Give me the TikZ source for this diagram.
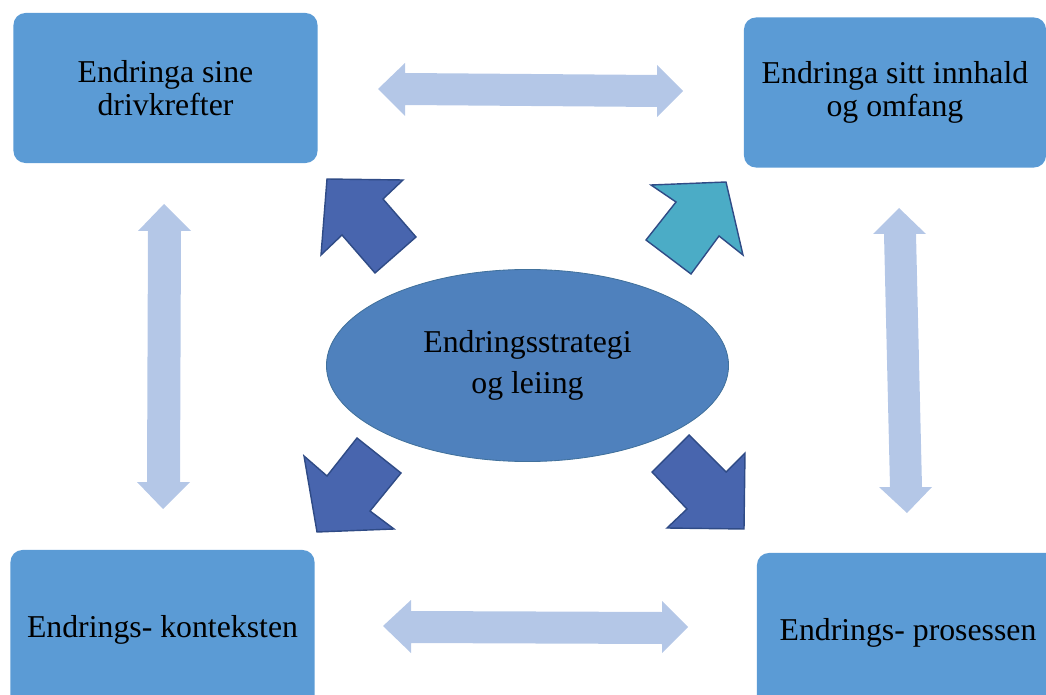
\documentclass[tikz,border=0pt]{standalone}
\usepackage{fontspec}
\setmainfont{Liberation Serif}
\usetikzlibrary{shapes.geometric}

\definecolor{boxblue}{HTML}{5B9BD5}
\definecolor{leadblue}{HTML}{4F81BD}
\definecolor{leadedge}{HTML}{41719C}
\definecolor{pushblue}{HTML}{4865AE}
\definecolor{pushcyan}{HTML}{4BACC6}
\definecolor{pushedge}{HTML}{2F4B86}
\definecolor{linkblue}{HTML}{B4C7E7}

\begin{document}
\begin{tikzpicture}[x=0.025cm, y=-0.025cm,
		factor/.style={rectangle, rounded corners=0.3cm, fill=boxblue, align=center,
			minimum width=7.6cm, minimum height=3.75cm, inner sep=0pt,
			font=\fontsize{22.6}{23.5}\selectfont},
		lead/.style={ellipse, fill=leadblue, draw=leadedge, line width=0.6pt, align=center,
			minimum width=10.05cm, minimum height=4.8cm, inner sep=0pt,
			font=\fontsize{22.6}{29.2}\selectfont},
		push/.style={fill=pushblue, draw=pushedge, line width=1pt, line join=miter},
		link/.style={fill=linkblue}]
		\useasboundingbox (0,0) rectangle (1046,695);
		\clip (0,0) rectangle (1046,695);

		% the four boxes
		\node[factor] (drive) at (165.5,88) {Endringa sine\\drivkrefter};
		\node[factor, minimum width=7.55cm] (content) at (895,92.5) {Endringa sitt innhald\\og omfang};
		\node[factor, minimum height=4cm] (context) at (162.5,630) {Endrings- konteksten};
		\node[factor, minimum width=7.55cm, minimum height=4cm] (process) at (908,633) {Endrings- prosessen};

		% the centre
		\node[lead] (lead) at (527.5,365.5) {Endringsstrategi\\og leiing};

		% double arrows between the boxes
		\fill[link] (378,89) -- (405,63) -- (405,73) -- (657,75) -- (657,65) -- (683,91)
			-- (657,117) -- (657,107) -- (405,105) -- (405,116) -- cycle;
		\fill[link] (383,626) -- (411,600) -- (411,611) -- (662,612) -- (662,601) -- (688,627)
			-- (662,653) -- (662,644) -- (411,643) -- (411,653) -- cycle;
		\fill[link] (164,204) -- (191,231) -- (181,231) -- (180,482) -- (190,482) -- (163,509)
			-- (137,482) -- (147,482) -- (148,231) -- (138,231) -- cycle;
		\fill[link] (899,208) -- (926,234) -- (916,234) -- (922,487) -- (932,487) -- (907,513)
			-- (879,487) -- (890,487) -- (884,234) -- (873,234) -- cycle;

		% block arrows out of the centre
		\draw[push] (327,179) -- (403,180) -- (383,199) -- (416,237) -- (375,273) -- (342,235) -- (321,255) -- cycle;
		\draw[push, fill=pushcyan] (651,185) -- (726,182) -- (743,255) -- (719,236) -- (691,274) -- (646,240) -- (676,202) -- cycle;
		\draw[push] (304,456) -- (327,476) -- (357,438) -- (401,473) -- (370,511) -- (394,529) -- (317,532) -- cycle;
		\draw[push] (689,435) -- (726,472) -- (745,453) -- (744,529) -- (667,528) -- (687,509) -- (652,472) -- cycle;
	\end{tikzpicture}
\end{document}
